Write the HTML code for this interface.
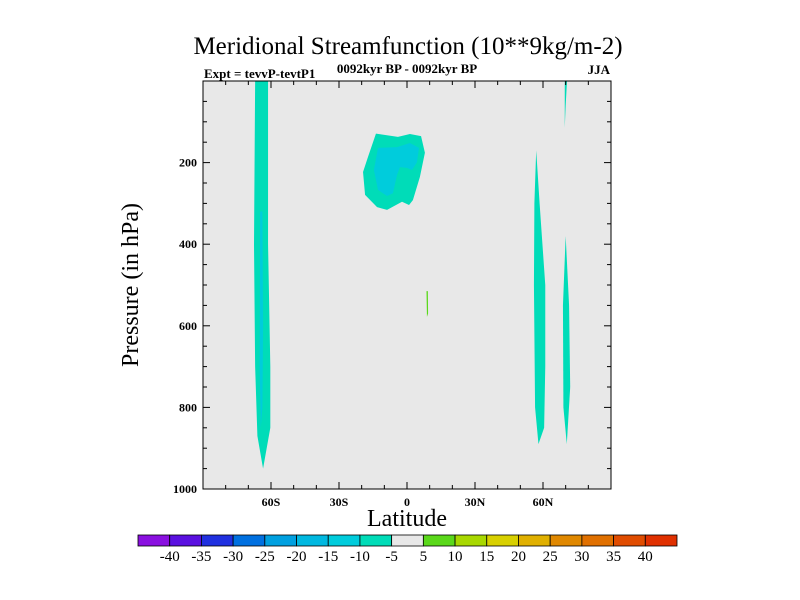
<!DOCTYPE html>
<html><head><meta charset="utf-8"><style>
body{margin:0;background:#fff;}
svg{display:block;font-family:"Liberation Serif",serif;}
</style></head><body>
<svg id="chart" width="800" height="600" viewBox="0 0 800 600" xmlns="http://www.w3.org/2000/svg">
<text x="408" y="54" font-size="25" text-anchor="middle">Meridional Streamfunction (10**9kg/m-2)</text>
<text x="204" y="78" font-size="13" font-weight="bold">Expt = tevvP-tevtP1</text>
<text x="407" y="73" font-size="13" font-weight="bold" text-anchor="middle">0092kyr BP - 0092kyr BP</text>
<text x="610" y="74" font-size="13" font-weight="bold" text-anchor="end">JJA</text>
<rect x="203" y="81" width="408" height="408" fill="#e8e8e8"/>
<g id="fills"></g>
<rect x="203" y="81" width="408" height="408" fill="none" stroke="#000" stroke-width="1"/>
<g id="axes"></g>
<text x="407" y="526" font-size="24" text-anchor="middle">Latitude</text>
<text transform="translate(138,285) rotate(-90)" font-size="24" text-anchor="middle">Pressure (in hPa)</text>
<g id="colorbar"></g>
</svg>
<script>
const xTicks=[-60,-30,0,30,60];
const xTickLabels=["60S","30S","0","30N","60N"];
const yTicks=[200,400,600,800,1000];
const cbLevels=[-40,-35,-30,-25,-20,-15,-10,-5,5,10,15,20,25,30,35,40];
const cbColors=["#8a10e0","#5a10e0","#2030e0","#0070e0","#00a0e0","#00b8e0","#00ccdc","#00dcb8","#e8e8e8","#5ad81a","#a8d800","#d8d000","#e0b000","#e08800","#e07000","#e04c00","#e03000"];
const bandSH=[[-67,0],[-61.3,0],[-61.3,400],[-60.3,700],[-60.3,850],[-63.5,950],[-66,870],[-67,700],[-67.5,400]];
const bandSHInner=[[-64.8,320],[-63.8,320],[-63.5,600],[-63.8,800],[-64.5,850],[-65,700]];
const blobOuter=[[-13.7,129],[-4,137],[1.3,130],[6.2,135],[7.9,176],[5.7,235],[2.6,292],[0.9,304],[-2.2,296],[-8.8,316],[-13.2,309],[-18.5,279],[-19.4,223],[-17.2,186]];
const blobInner=[[-12.8,164],[-4.4,162],[1.3,152],[5.3,164],[4.4,199],[2.2,218],[0,213],[-3.1,211],[-4.4,230],[-6.2,275],[-8.8,282],[-12.8,267],[-14.6,218]];
const bandNH1=[[57,170],[58.5,300],[61,500],[61,700],[60.5,850],[58,890],[56.5,800],[56,500],[56.2,300]];
const bandNH2=[[70,380],[71.5,550],[72,750],[70.5,890],[69,800],[68.8,550]];
const bandNH3=[[69.6,0],[70.6,0],[70,60],[69.6,115]];
const speck=[[8.6,515],[9.2,515],[9.3,570],[8.8,578]];
const regions=[[bandSH,7,"sh-band"],[bandSHInner,6,"sh-band-core"],[blobOuter,7,"tropical-cell"],[blobInner,6,"tropical-cell-core"],[bandNH1,7,"nh-band-60n"],[bandNH2,7,"nh-band-70n"],[bandNH3,7,"nh-band-70n-upper"],[speck,9,"positive-speck"]];
const L=203,T=81,W=408,H=408;
const xs=lat=>L+(lat+90)/180*W;
const ys=p=>T+p/1000*H;
const NS="http://www.w3.org/2000/svg";
function mk(tag,attrs,parent){const e=document.createElementNS(NS,tag);for(const k in attrs)e.setAttribute(k,attrs[k]);parent.appendChild(e);return e;}
const fills=document.getElementById('fills');
regions.forEach(r=>{
 const e=mk('polygon',{points:r[0].map(v=>xs(v[0])+','+ys(v[1])).join(' '),fill:cbColors[r[1]]},fills);
 
 
});
const ax=document.getElementById('axes');
for(let lat=-80;lat<=80;lat+=10){
 const x=xs(lat),maj=lat%30===0;const len=maj?7:4;
 mk('line',{x1:x,y1:T+H,x2:x,y2:T+H-len,stroke:'#000'},ax);
 mk('line',{x1:x,y1:T,x2:x,y2:T+len,stroke:'#000'},ax);
}
for(let p=50;p<1000;p+=50){
 const y=ys(p),maj=p%200===0;const len=maj?7:4;
 mk('line',{x1:L,y1:y,x2:L+len,y2:y,stroke:'#000'},ax);
 mk('line',{x1:L+W,y1:y,x2:L+W-len,y2:y,stroke:'#000'},ax);
}
xTicks.forEach((v,i)=>{const t=mk('text',{x:xs(v),y:T+H+17,'font-size':12,'font-weight':'bold','text-anchor':'middle'},ax);t.textContent=xTickLabels[i];
 
 });
yTicks.forEach(v=>{const t=mk('text',{x:L-6,y:ys(v)+4,'font-size':12,'font-weight':'bold','text-anchor':'end'},ax);t.textContent=v;
 
 });
const cb=document.getElementById('colorbar');
const cx0=138,cx1=677,cy=535,ch=11,bw=(cx1-cx0)/cbColors.length;
cbColors.forEach((c,i)=>{const r=mk('rect',{x:cx0+i*bw,y:cy,width:bw,height:ch,fill:c,stroke:'#000','stroke-width':0.8},cb);
 
 });
cbLevels.forEach((v,i)=>{const t=mk('text',{x:cx0+(i+1)*bw,y:cy+ch+15,'font-size':15,'text-anchor':'middle'},cb);t.textContent=v;
 
 });
</script>
</body></html>
